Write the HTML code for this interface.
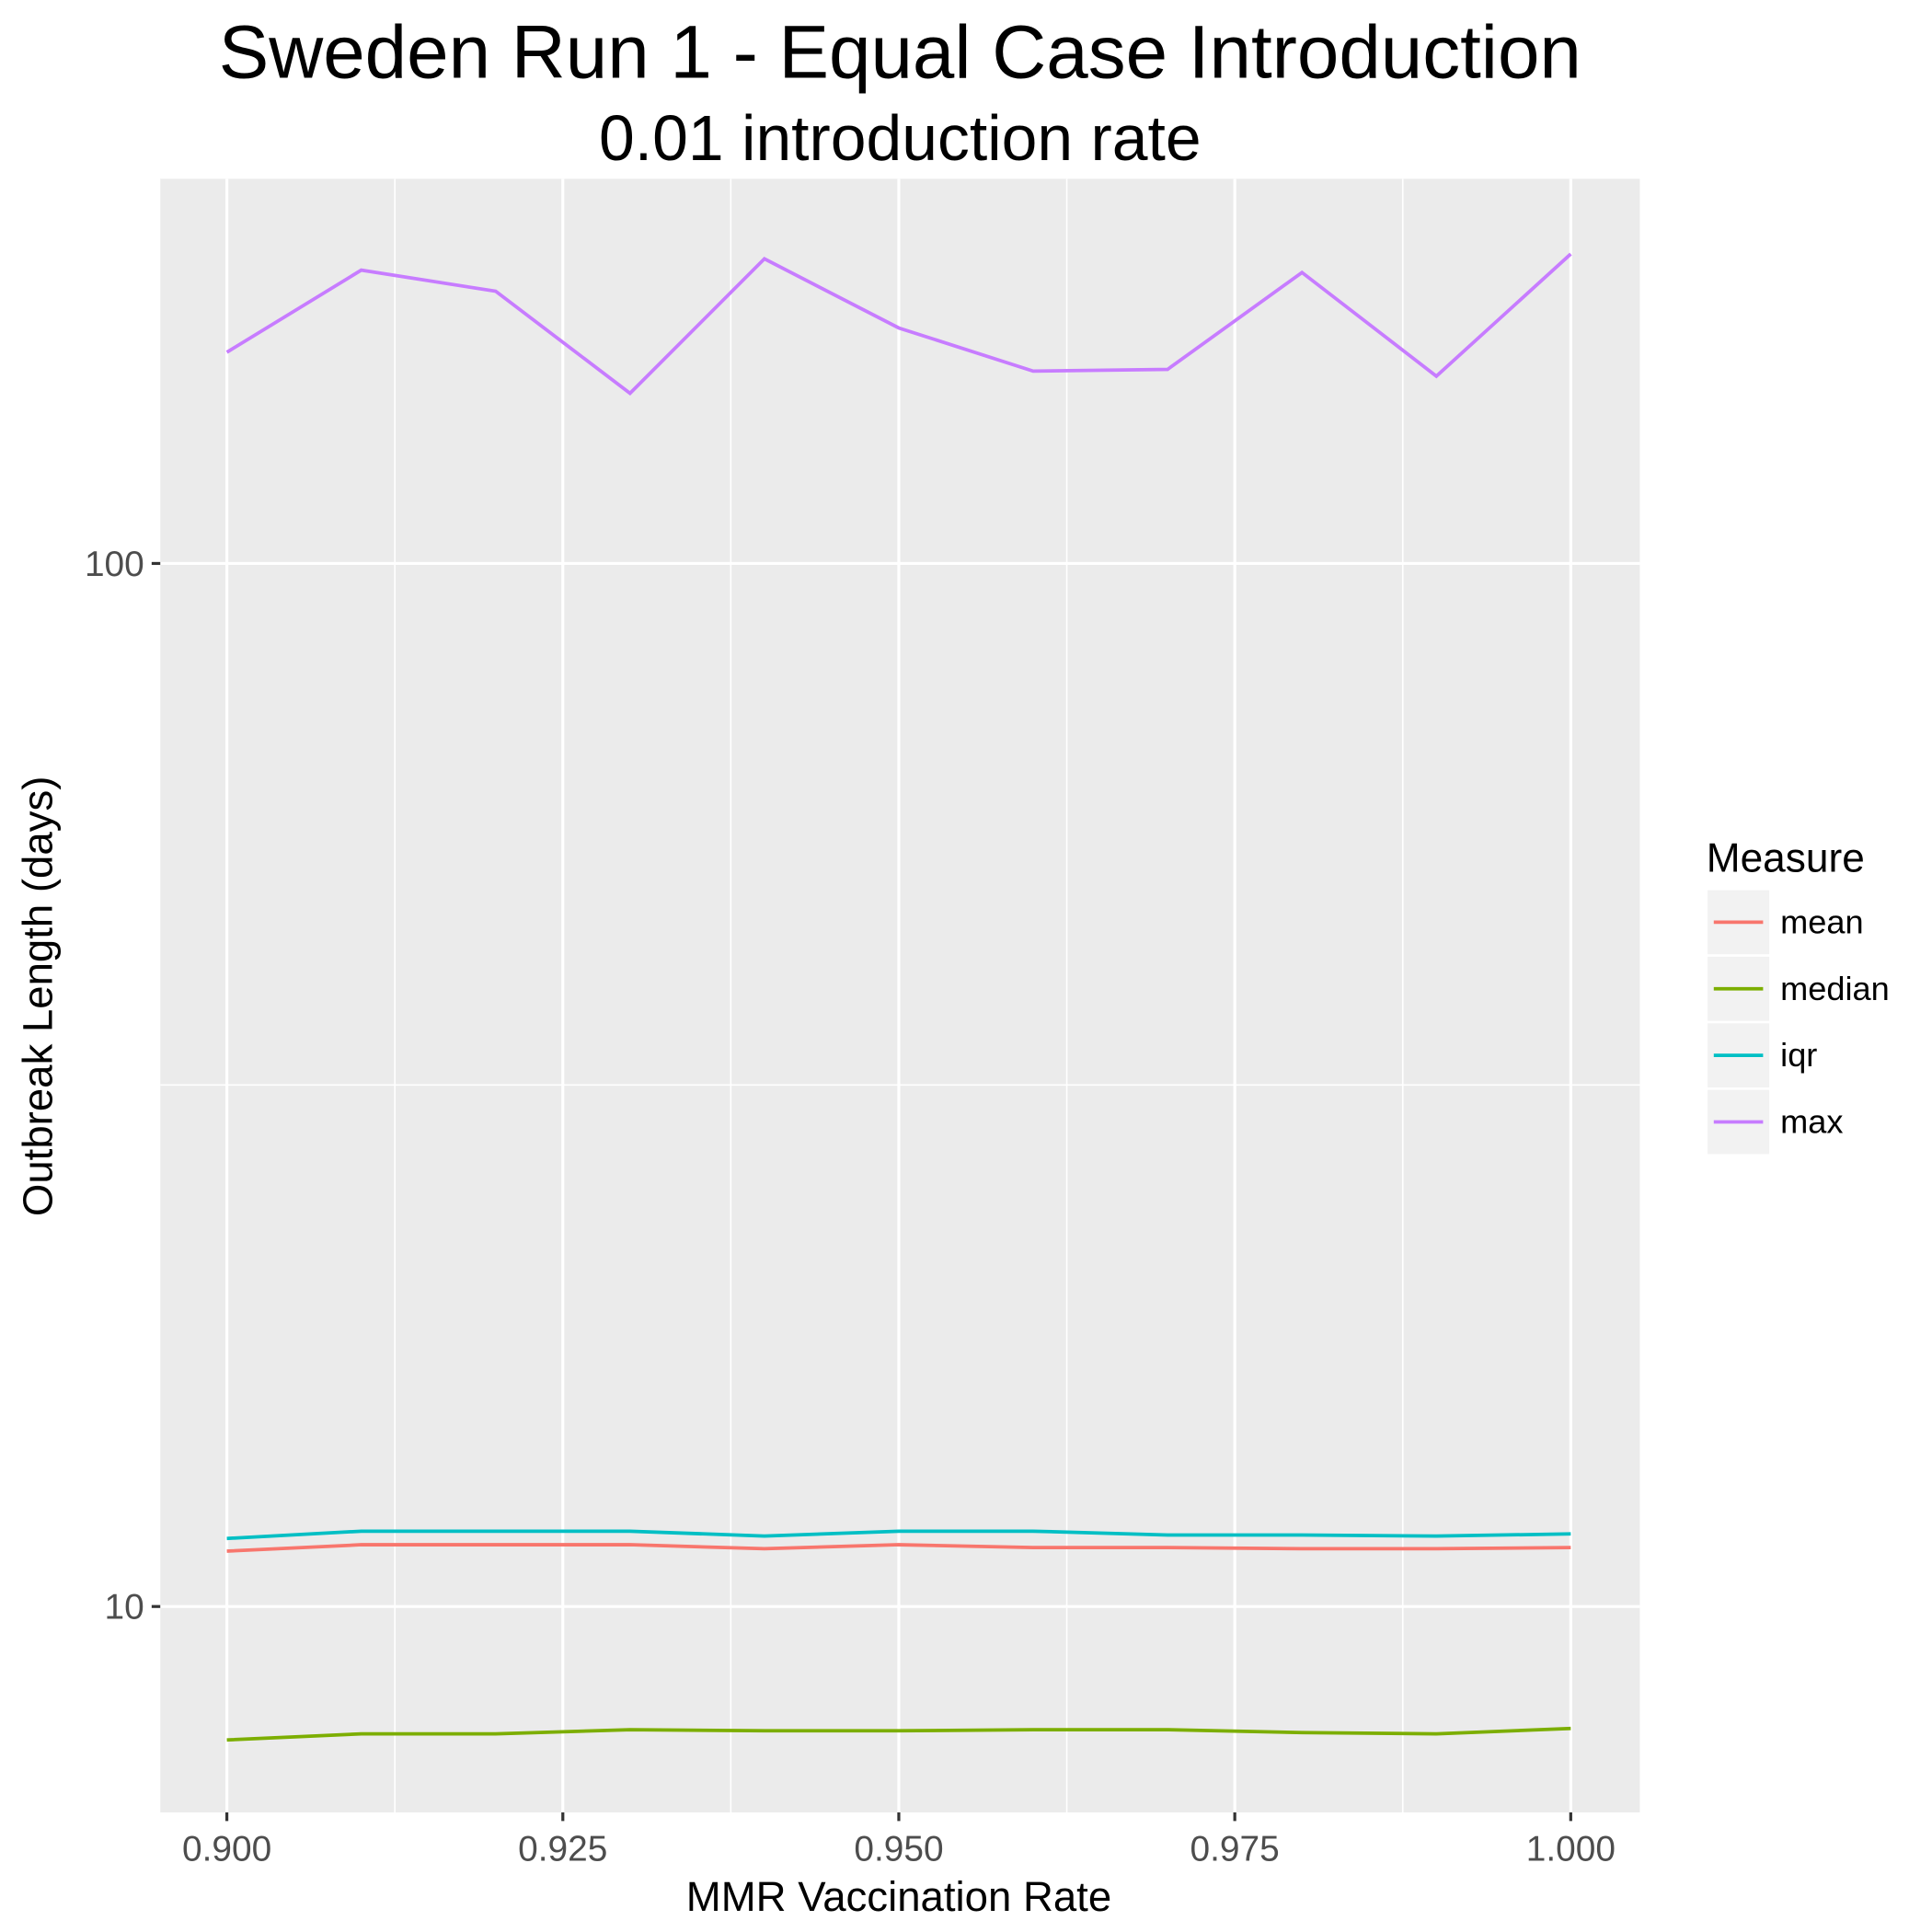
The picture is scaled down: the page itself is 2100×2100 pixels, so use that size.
<!DOCTYPE html>
<html><head><meta charset="utf-8"><style>
html,body{margin:0;padding:0;background:#fff;}
svg{display:block;font-family:"Liberation Sans",Arial,sans-serif;}
</style></head><body>
<svg id="chart" width="2100" height="2100" viewBox="0 0 1567 1567">
<rect x="0" y="0" width="1567" height="1567" fill="#fff"/>
<text x="730" y="63" font-size="61" text-anchor="middle" fill="#000">Sweden Run 1 - Equal Case Introduction</text>
<text x="730" y="130" font-size="52" text-anchor="middle" fill="#000">0.01 introduction rate</text>
<g id="plot"></g>
<text x="729" y="1550" font-size="34" text-anchor="middle" fill="#000">MMR Vaccination Rate</text>
<text transform="translate(42,808) rotate(-90)" font-size="34" text-anchor="middle" fill="#000">Outbreak Length (days)</text>
<text x="1384" y="707" font-size="33" fill="#000">Measure</text>
<g id="legend"></g>
</svg>
<script>
const xVals = [0.90,0.91,0.92,0.93,0.94,0.95,0.96,0.97,0.98,0.99,1.00];
const meanVals = [11.30,11.46,11.46,11.46,11.36,11.46,11.39,11.39,11.36,11.36,11.39];
const medianVals = [7.45,7.55,7.55,7.62,7.60,7.60,7.62,7.62,7.57,7.55,7.64];
const iqrVals = [11.62,11.81,11.81,11.81,11.68,11.81,11.81,11.71,11.71,11.68,11.74];
const maxVals = [159.4,191.1,182.4,145.6,195.9,168.2,152.9,153.5,190.1,151.2,198.0];
const seriesNames = ["mean","median","iqr","max"];
const seriesColors = ["#F8766D","#7CAE00","#00BFC4","#C77CFF"];
const xTicks = [0.900,0.925,0.950,0.975,1.000];
const xTickLabels = ["0.900","0.925","0.950","0.975","1.000"];
const yTicks = [10,100];
const yTickLabels = ["10","100"];
const yMinor = [Math.sqrt(1000)];

const NS="http://www.w3.org/2000/svg";
const P={l:130,r:1330,t:145,b:1470};
const xs=v=>184+(v-0.9)/0.1*1090;
const ys=v=>1303-(Math.log10(v)-1)*846;
function mk(tag,attrs,parent){const e=document.createElementNS(NS,tag);for(const k in attrs)e.setAttribute(k,attrs[k]);parent.appendChild(e);return e;}
const plot=document.getElementById('plot');
const bg=mk('rect',{x:P.l,y:P.t,width:P.r-P.l,height:P.b-P.t,fill:'#EBEBEB'},plot);


for(let i=0;i<xTicks.length-1;i++){const xm=xs((xTicks[i]+xTicks[i+1])/2);
 const g=mk('line',{x1:xm,x2:xm,y1:P.t,y2:P.b,stroke:'#fff','stroke-width':1.2},plot);
 
 }
yMinor.forEach(v=>{const g=mk('line',{x1:P.l,x2:P.r,y1:ys(v),y2:ys(v),stroke:'#fff','stroke-width':1.2},plot);
 
 });
xTicks.forEach((v,i)=>{const x=xs(v);
 const g=mk('line',{x1:x,x2:x,y1:P.t,y2:P.b,stroke:'#fff','stroke-width':2.4},plot);
 
 
 const t=mk('line',{x1:x,x2:x,y1:P.b,y2:P.b+7,stroke:'#333','stroke-width':2.4},plot);
 
 
 const l=mk('text',{x:x,y:P.b+39,'font-size':29,'text-anchor':'middle',fill:'#4D4D4D'},plot);l.textContent=xTickLabels[i];
 
 });
yTicks.forEach((v,i)=>{const y=ys(v);
 const g=mk('line',{x1:P.l,x2:P.r,y1:y,y2:y,stroke:'#fff','stroke-width':2.4},plot);
 
 
 const t=mk('line',{x1:P.l-7,x2:P.l,y1:y,y2:y,stroke:'#333','stroke-width':2.4},plot);
 
 
 const l=mk('text',{x:P.l-13,y:y+10,'font-size':29,'text-anchor':'end',fill:'#4D4D4D'},plot);l.textContent=yTickLabels[i];
 
 });
const allSeries=[meanVals,medianVals,iqrVals,maxVals];
allSeries.forEach((vals,si)=>{
 const pts=vals.map((v,i)=>xs(xVals[i]).toFixed(1)+','+ys(v).toFixed(1)).join(' ');
 const pl=mk('polyline',{points:pts,fill:'none',stroke:seriesColors[si],'stroke-width':2.8},plot);
 
 });
const leg=document.getElementById('legend');
seriesNames.forEach((n,i)=>{const y0=722+i*54;
 const k=mk('rect',{x:1385,y:y0,width:50,height:52,fill:'#F2F2F2'},leg);
 
 
 const ln=mk('line',{x1:1390,x2:1430,y1:y0+26,y2:y0+26,stroke:seriesColors[i],'stroke-width':2.8},leg);
 
 
 const t=mk('text',{x:1444,y:y0+35,'font-size':27,fill:'#000'},leg);t.textContent=n;
 
 });
</script>
</body></html>
